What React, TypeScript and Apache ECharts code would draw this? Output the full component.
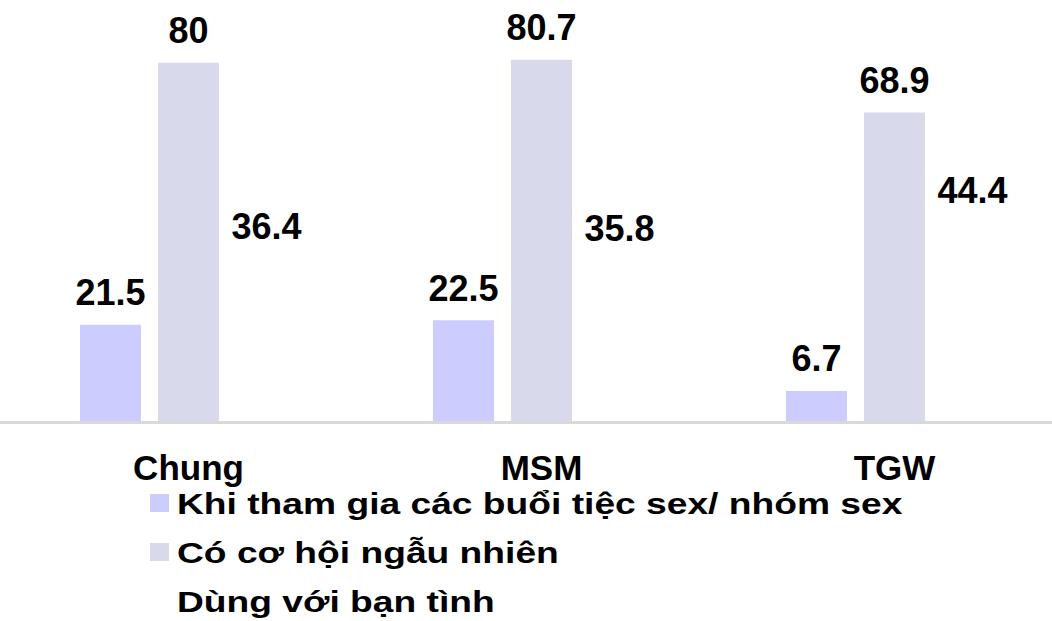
import React, { useEffect, useRef } from "react";
import * as echarts from "echarts";

const categories = ["Chung", "MSM", "TGW"];
const seriesNames = [
  "Khi tham gia các buổi tiệc sex/ nhóm sex",
  "Có cơ hội ngẫu nhiên",
  "Dùng với bạn tình",
];
const partyValues = [21.5, 22.5, 6.7];
const chanceValues = [80, 80.7, 68.9];
const partnerValues = [36.4, 35.8, 44.4];
const seriesColors = ["#ccccff", "#d9d9ec", "#ffffff"];

const W = 1052;
const DIV_W = 1080;
const H = 621;
const FONT = "'Liberation Sans', Arial, sans-serif";

export default function App() {
  const ref = useRef<HTMLDivElement>(null);
  useEffect(() => {
    if (!ref.current) return;
    const chart = echarts.init(ref.current, undefined, { renderer: "svg" });
    const values = [partyValues, chanceValues, partnerValues];
    const label = {
      show: true,
      position: "top",
      distance: 14,
      color: "#000",
      fontSize: 36,
      fontWeight: "bold",
      fontFamily: FONT,
    };
    const legendRows = [503, 552, 601];
    const legendGraphics: any[] = [];
    seriesNames.forEach((name, i) => {
      legendGraphics.push({
        type: "rect",
        shape: { x: 150, y: legendRows[i] - 9, width: 19, height: 18 },
        style: { fill: seriesColors[i] },
        silent: true,
      });
      legendGraphics.push({
        type: "text",
        x: 177,
        y: legendRows[i],
        scaleX: 1.24,
        originX: 0,
        style: {
          text: name,
          font: `bold 30px ${FONT}`,
          fill: "#000",
          verticalAlign: "middle",
          align: "left",
        },
        silent: true,
      });
    });
    chart.setOption({
      animation: false,
      grid: { left: 12, width: 1059, top: 18, bottom: H - 421, outerBoundsMode: "none" },
      xAxis: {
        type: "category",
        data: categories,
        axisLine: { show: false },
        axisTick: { show: false },
        axisLabel: {
          margin: 29,
          color: "#000",
          fontSize: 35,
          fontWeight: "bold",
          fontFamily: FONT,
        },
      },
      yAxis: { type: "value", min: 0, max: 90, show: false, splitLine: { show: false } },
      series: values.map((v, i) => ({
        type: "bar",
        name: seriesNames[i],
        data: v,
        barWidth: 61,
        barGap: "27.9%",
        itemStyle: { color: seriesColors[i] },
        label,
      })),
      graphic: [
        {
          type: "line",
          shape: { x1: 0, y1: 422.5, x2: W, y2: 422.5 },
          style: { stroke: "#d9d9d9", lineWidth: 3 },
          z: 100,
          silent: true,
        },
        ...legendGraphics,
      ],
    });
    return () => chart.dispose();
  }, []);
  return (
    <div
      ref={ref}
      style={{ position: "fixed", left: 0, top: 0, width: DIV_W, height: H, background: "#fff" }}
    />
  );
}
